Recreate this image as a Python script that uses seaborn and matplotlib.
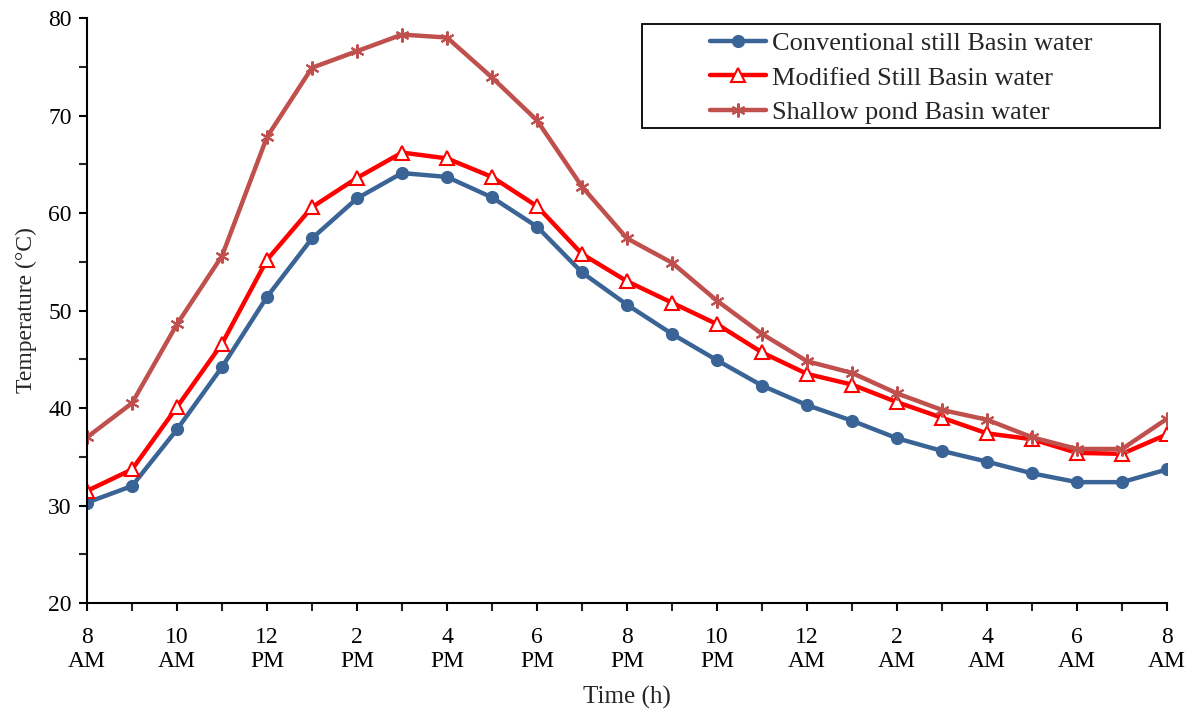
import pandas as pd
import numpy as np
import seaborn as sns
import matplotlib.pyplot as plt
from matplotlib.ticker import MultipleLocator
from matplotlib.patches import Rectangle

# hours after 8 AM
hours = list(range(25))
conventional = [30.3, 32.0, 37.8, 44.2, 51.4, 57.4, 61.5, 64.1, 63.7, 61.6, 58.6, 53.9, 50.6,
                47.6, 44.9, 42.3, 40.3, 38.7, 36.9, 35.6, 34.5, 33.3, 32.4, 32.4, 33.7]
modified = [31.5, 33.7, 40.1, 46.6, 55.2, 60.6, 63.6, 66.2, 65.6, 63.7, 60.7, 55.8, 53.0,
            50.8, 48.6, 45.7, 43.5, 42.4, 40.6, 39.0, 37.4, 36.8, 35.4, 35.3, 37.3]
shallow = [37.0, 40.5, 48.6, 55.6, 67.8, 74.9, 76.6, 78.3, 78.0, 73.9, 69.5, 62.7, 57.4,
           54.9, 51.0, 47.6, 44.8, 43.6, 41.5, 39.8, 38.8, 37.0, 35.8, 35.8, 38.9]
tick_labels = ["8\nAM", "10\nAM", "12\nPM", "2\nPM", "4\nPM", "6\nPM", "8\nPM", "10\nPM",
               "12\nAM", "2\nAM", "4\nAM", "6\nAM", "8\nAM"]

sns.set_style("ticks")
plt.rcParams['font.family'] = ['Liberation Serif', 'DejaVu Serif']

df = pd.DataFrame({"hour": hours, "conv": conventional, "mod": modified, "shallow": shallow})

fig = plt.figure(figsize=(11.95, 7.15), dpi=100)
ax = fig.add_axes([0.0728, 0.1566, 0.9038, 0.8182])

sns.lineplot(x="hour", y="conv", data=df, ax=ax, color="#3A6496", lw=3.2, marker="o",
             markersize=9.5, markeredgewidth=0, label="Conventional still Basin water")
sns.lineplot(x="hour", y="mod", data=df, ax=ax, color="#FF0000", lw=3.2, marker="^",
             markersize=9.5, markerfacecolor="white", markeredgecolor="#FF0000",
             markeredgewidth=1.5, label="Modified Still Basin water")
sns.lineplot(x="hour", y="shallow", data=df, ax=ax, color="#C0504D", lw=3.2, marker=(6, 2, 0),
             markersize=10, markeredgecolor="#C0504D", markeredgewidth=1.5,
             label="Shallow pond Basin water")

ax.set_xlim(0, 24)
ax.set_ylim(20, 80)
ax.set_xticks(range(0, 25, 2))
ax.set_xticklabels(tick_labels, linespacing=1.2)
ax.xaxis.set_minor_locator(MultipleLocator(1))
ax.yaxis.set_major_locator(MultipleLocator(10))
ax.yaxis.set_minor_locator(MultipleLocator(5))
ax.tick_params(axis="both", which="major", direction="out", length=6, width=1.5, labelsize=17,
               colors="black")
ax.tick_params(axis="x", which="major", pad=11)
ax.tick_params(axis="y", which="major", pad=5)
ax.tick_params(axis="both", which="minor", direction="out", length=6, width=1.5)
for s in ["left", "bottom"]:
    ax.spines[s].set_linewidth(1.5)
    ax.spines[s].set_color("black")
sns.despine(ax=ax)

ax.set_xlabel("Time (h)", fontsize=18, labelpad=10)
ax.set_ylabel("Temperature (°C)", fontsize=17, labelpad=8)

# legend box drawn separately so the entries can sit centred like the original
ax.add_patch(Rectangle((0.514, 0.812), 0.4795, 0.1777, transform=ax.transAxes, fill=False,
                       edgecolor="black", lw=1.3, zorder=5, clip_on=False))
leg = ax.legend(loc="upper left", bbox_to_anchor=(0.577, 0.977), fontsize=19, frameon=False,
                handlelength=2.1, borderpad=0, labelspacing=0.42, handletextpad=0.25,
                borderaxespad=0)

fig.savefig("out.png", dpi=100)
